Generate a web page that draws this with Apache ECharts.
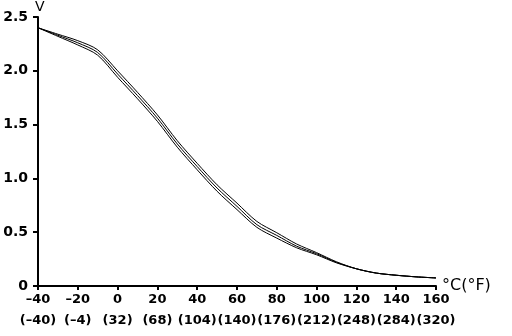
<!DOCTYPE html>
<html>
<head>
<meta charset="utf-8">
<script src="https://cdn.jsdelivr.net/npm/echarts@6/dist/echarts.min.js"></script>
<style>
  html, body { margin: 0; padding: 0; background: #fff; }
  #chart { width: 512px; height: 336px; }
</style>
</head>
<body>
<div id="chart"></div>
<script>
// 温度 (°C) 与输出电压 (V) 曲线，三条样本
const tempC = [-40, -30, -20, -10, 0, 10, 20, 30, 40, 50, 60, 70, 80, 90, 100, 110, 120, 130, 140, 150, 160];
const upperV = [2.40, 2.34, 2.28, 2.195, 2.00, 1.80, 1.59, 1.35, 1.14, 0.94, 0.77, 0.60, 0.495, 0.39, 0.31, 0.225, 0.16, 0.12, 0.10, 0.085, 0.075];
const middleV = [2.40, 2.33, 2.26, 2.17, 1.97, 1.77, 1.56, 1.32, 1.11, 0.91, 0.74, 0.57, 0.47, 0.37, 0.30, 0.22, 0.16, 0.12, 0.10, 0.085, 0.075];
const lowerV = [2.40, 2.32, 2.24, 2.145, 1.94, 1.74, 1.53, 1.29, 1.08, 0.88, 0.71, 0.545, 0.445, 0.355, 0.29, 0.215, 0.16, 0.12, 0.10, 0.085, 0.075];

// x 轴刻度：摄氏 / 华氏
const tickC = [-40, -20, 0, 20, 40, 60, 80, 100, 120, 140, 160];
const tickF = ['(–40)', '(–4)', '(32)', '(68)', '(104)', '(140)', '(176)', '(212)', '(248)', '(284)', '(320)'];

const FONT = 'DejaVu Sans';

function toPairs(vals) {
  return tempC.map((t, i) => [t, vals[i]]);
}

function lineSeries(vals) {
  return {
    type: 'line',
    data: toPairs(vals),
    smooth: 0.3,
    symbol: 'none',
    lineStyle: { color: '#000', width: 1 }
  };
}

const chart = echarts.init(document.getElementById('chart'));

chart.setOption({
  backgroundColor: '#fff',
  animation: false,
  grid: { left: 38, right: 76, top: 15, bottom: 50 },
  xAxis: {
    type: 'value',
    min: -40,
    max: 160,
    interval: 20,
    name: '°C(°F)',
    nameLocation: 'end',
    nameGap: 6,
    nameMoveOverlap: false,
    nameTextStyle: { color: '#000', fontFamily: FONT, fontSize: 16, padding: [0, 0, 9, 0] },
    axisLine: { onZero: false, lineStyle: { color: '#000', width: 2 } },
    axisTick: { show: true, length: 4, lineStyle: { color: '#000', width: 2 } },
    splitLine: { show: false },
    axisLabel: {
      margin: 3,
      showMinLabel: true,
      showMaxLabel: true,
      hideOverlap: false,
      formatter: function (v) {
        const i = tickC.indexOf(v);
        const c = String(v).replace('-', '–');
        return '{a|' + c + '}\n{b|' + (i >= 0 ? tickF[i] : '') + '}';
      },
      rich: {
        a: { color: '#000', fontFamily: FONT, fontWeight: 'bold', fontSize: 13, lineHeight: 21 },
        b: { color: '#000', fontFamily: FONT, fontWeight: 'bold', fontSize: 13, lineHeight: 21 }
      }
    }
  },
  yAxis: {
    type: 'value',
    min: 0,
    max: 2.5,
    interval: 0.5,
    name: 'V',
    nameLocation: 'end',
    nameGap: 3,
    nameTextStyle: { color: '#000', fontFamily: FONT, fontSize: 14, align: 'left', padding: [0, 0, 0, -3] },
    axisLine: { show: true, onZero: false, lineStyle: { color: '#000', width: 2 } },
    axisTick: { show: true, length: 5, lineStyle: { color: '#000', width: 2 } },
    splitLine: { show: false },
    axisLabel: {
      margin: 10,
      color: '#000',
      fontFamily: FONT,
      fontWeight: 'bold',
      fontSize: 14,
      formatter: v => (v === 0 ? '0' : v.toFixed(1))
    }
  },
  series: [lineSeries(upperV), lineSeries(middleV), lineSeries(lowerV)]
});
</script>
</body>
</html>
